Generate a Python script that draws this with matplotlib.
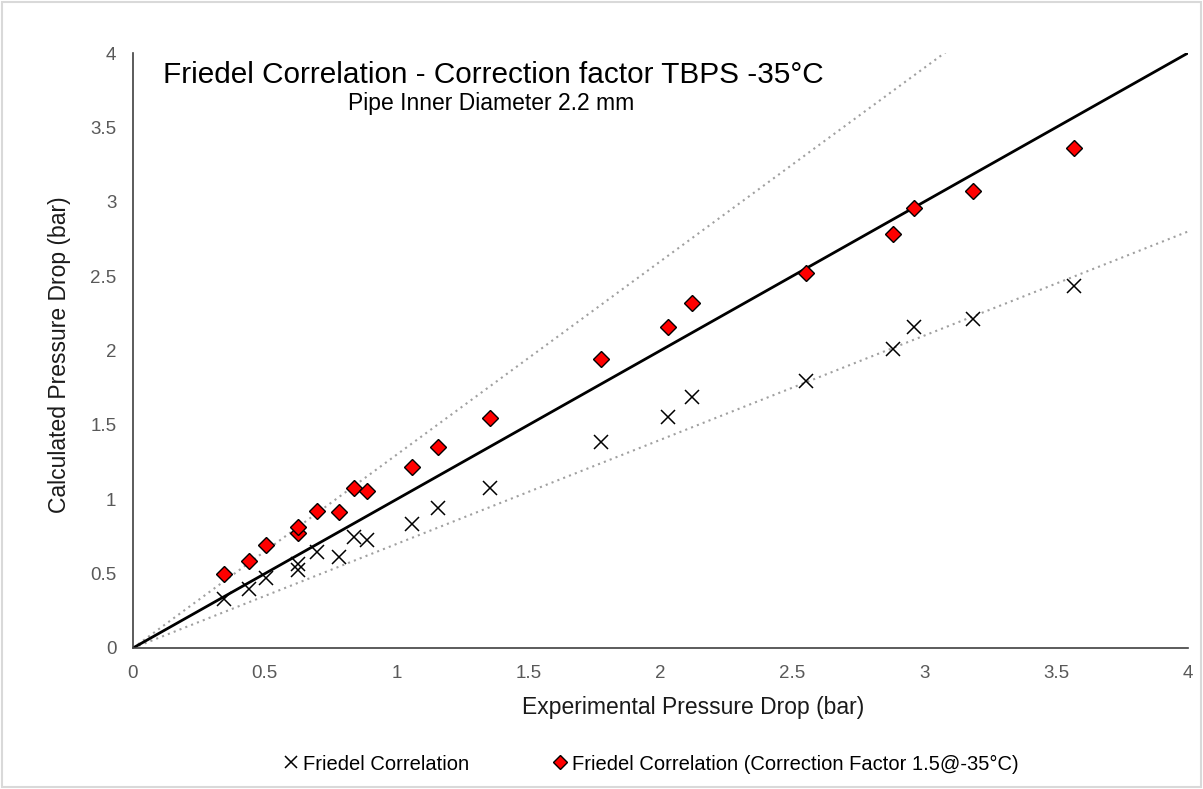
import matplotlib.pyplot as plt
import numpy as np
from matplotlib.patches import Rectangle

plt.rcParams['font.family'] = ['Liberation Sans', 'DejaVu Sans']

# experimental pressure drop (bar)
exp_dp = [0.346, 0.44, 0.504, 0.624, 0.627, 0.696, 0.780, 0.837, 0.887, 1.059,
          1.158, 1.355, 1.774, 2.030, 2.120, 2.552, 2.883, 2.961, 3.186, 3.569]
# Friedel correlation (bar)
friedel = [0.327, 0.397, 0.473, 0.524, 0.565, 0.643, 0.614, 0.746, 0.724, 0.834,
           0.939, 1.074, 1.383, 1.551, 1.685, 1.797, 2.008, 2.156, 2.210, 2.436]
# Friedel with correction factor 1.5 (bar)
friedel_cf = [0.495, 0.583, 0.692, 0.771, 0.816, 0.923, 0.914, 1.078, 1.055, 1.215,
              1.353, 1.548, 1.945, 2.156, 2.317, 2.519, 2.781, 2.956, 3.070, 3.361]
ticks = ['0', '0.5', '1', '1.5', '2', '2.5', '3', '3.5', '4']

fig = plt.figure(figsize=(12.03, 7.89), dpi=100)
ax = fig.add_axes([133 / 1203, 1 - 648 / 789, 1055 / 1203, 595 / 789])

xs = np.array([0, 4])
ax.plot(xs, xs, color='black', lw=2, zorder=2)
ax.plot(xs, 1.3 * xs, color='#a0a0a0', lw=1.5, ls=(0, (1, 2)), zorder=1)
ax.plot(xs, 0.7 * xs, color='#a0a0a0', lw=1.5, ls=(0, (1, 2)), zorder=1)

ax.plot(exp_dp, friedel, 'x', color='black', ms=10, mew=1.1, zorder=3,
        label='Friedel Correlation')
ax.plot(exp_dp, friedel_cf, 'D', color='red', mec='black', ms=8.5, mew=1, zorder=4,
        label='Friedel Correlation (Correction Factor 1.5@-35°C)')

ax.set_xlim(0, 4)
ax.set_ylim(0, 4)
ax.set_xticks(np.arange(0, 4.01, 0.5))
ax.set_yticks(np.arange(0, 4.01, 0.5))
ax.set_xticklabels(ticks)
ax.set_yticklabels(ticks)
ax.tick_params(colors='#595959', labelsize=13.5, length=0)
ax.tick_params(axis='x', pad=12)
ax.tick_params(axis='y', pad=12)
for s in ['top', 'right']:
    ax.spines[s].set_visible(False)
for s in ['left', 'bottom']:
    ax.spines[s].set_color('#404040')
    ax.spines[s].set_linewidth(1.2)

ax.set_xlabel('Experimental Pressure Drop (bar)', fontsize=16.5, color='#1a1a1a',
              labelpad=10, x=(693 - 133) / 1055)
ax.set_ylabel('Calculated Pressure Drop (bar)', fontsize=16.5, color='#1a1a1a',
              labelpad=14, y=(648 - 355) / 595)

ax.text(0.0285, 0.987, 'Friedel Correlation - Correction factor TBPS -35°C',
        transform=ax.transAxes, fontsize=21.4, va='top', ha='left')
ax.text(0.204, 0.934, 'Pipe Inner Diameter 2.2 mm',
        transform=ax.transAxes, fontsize=16.5, va='top', ha='left')

fig.legend(loc='center', bbox_to_anchor=(650 / 1203, 1 - 764 / 789), ncol=2, frameon=False,
           fontsize=14.5, handletextpad=0.1, columnspacing=4.0, handlelength=1,
           markerscale=0.8)

fig.patches.append(Rectangle((0.002, 0.002), 0.996, 0.996, transform=fig.transFigure,
                             fill=False, edgecolor='#d9d9d9', lw=1.5))

fig.savefig('out.png', dpi=100)
